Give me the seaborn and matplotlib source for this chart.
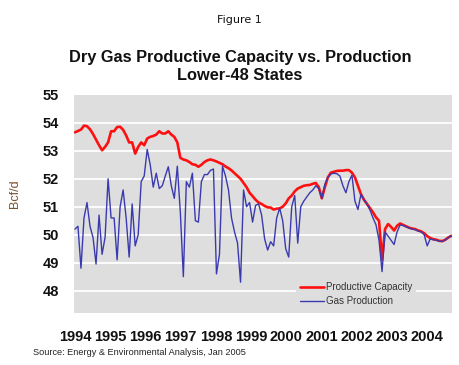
import matplotlib
matplotlib.use("Agg")
import matplotlib.pyplot as plt
import seaborn as sns
import pandas as pd
import numpy as np
from matplotlib.lines import Line2D

# monthly values, Jan 1994 onward
capacity = [
    53.66, 53.71, 53.76, 53.90, 53.88, 53.77, 53.60, 53.40, 53.20, 53.02,
    53.14, 53.30, 53.70, 53.70, 53.85, 53.86, 53.75, 53.55, 53.30, 53.30,
    52.90, 53.14, 53.30, 53.20, 53.44, 53.50, 53.53, 53.58, 53.70, 53.62,
    53.62, 53.70, 53.58, 53.50, 53.30, 52.75, 52.69, 52.66, 52.60, 52.52,
    52.50, 52.43, 52.50, 52.60, 52.66, 52.69, 52.66, 52.62, 52.57, 52.52,
    52.44, 52.38, 52.30, 52.20, 52.10, 52.00, 51.85, 51.70, 51.50, 51.38,
    51.25, 51.15, 51.10, 51.03, 50.98, 50.97, 50.90, 50.93, 50.94, 51.00,
    51.12, 51.30, 51.40, 51.55, 51.65, 51.70, 51.75, 51.77, 51.78, 51.82,
    51.85, 51.70, 51.30, 51.70, 52.05, 52.22, 52.25, 52.28, 52.29, 52.29,
    52.31, 52.31, 52.22, 52.05, 51.75, 51.45, 51.25, 51.10, 50.95, 50.80,
    50.62, 50.50, 49.10, 50.20, 50.38, 50.28, 50.15, 50.32, 50.40, 50.35,
    50.30, 50.25, 50.22, 50.20, 50.15, 50.12, 50.05, 49.95, 49.88, 49.84,
    49.82, 49.78, 49.77, 49.82, 49.90, 49.96,
]
production = [
    50.20, 50.30, 48.80, 50.60, 51.15, 50.30, 49.90, 48.95, 50.70, 49.30,
    49.90, 52.00, 50.60, 50.60, 49.10, 51.00, 51.60, 50.60, 49.20, 51.10,
    49.60, 50.00, 51.90, 52.10, 53.05, 52.50, 51.70, 52.20, 51.65, 51.75,
    52.10, 52.43, 51.75, 51.30, 52.45, 50.80, 48.50, 51.90, 51.70, 52.20,
    50.50, 50.45, 51.90, 52.15, 52.15, 52.30, 52.35, 48.60, 49.30, 52.45,
    52.10, 51.60, 50.60, 50.10, 49.70, 48.30, 51.60, 51.00, 51.15, 50.45,
    51.05, 51.10, 50.70, 49.85, 49.45, 49.75, 49.60, 50.60, 50.95, 50.50,
    49.50, 49.20, 51.00, 51.40, 49.70, 51.00, 51.20, 51.35, 51.50, 51.60,
    51.75, 51.65, 51.30, 51.80, 52.05, 52.17, 52.20, 52.18, 52.10, 51.75,
    51.50, 51.90, 52.13, 51.20, 50.90, 51.45, 51.25, 51.10, 50.88, 50.60,
    50.35, 49.80, 48.68, 50.10, 49.95, 49.80, 49.65, 50.10, 50.35, 50.33,
    50.28, 50.24, 50.20, 50.18, 50.13, 50.10, 50.00, 49.60, 49.85, 49.82,
    49.80, 49.77, 49.76, 49.81, 49.90, 49.96,
]
years = [str(y) for y in range(1994, 2005)]
y_ticks = [48, 49, 50, 51, 52, 53, 54, 55]

df = pd.DataFrame({
    "month": np.arange(len(capacity)),
    "Productive Capacity": capacity,
    "Gas Production": production,
})
long_df = df.melt(id_vars="month", var_name="series", value_name="bcfd")

sns.set_style("white")
plt.rcParams["font.family"] = ["Liberation Sans", "DejaVu Sans"]

fig = plt.figure(figsize=(4.6, 3.65), dpi=100)
ax = fig.add_axes([0.161, 0.1425, 0.822, 0.5975])
ax.set_facecolor("#dedede")

ax.set_ylim(47.2, 55)
ax.set_yticks(y_ticks)
for v in y_ticks[:-1]:
    ax.axhline(v, color="white", lw=1.3, zorder=1)

sns.lineplot(data=long_df, x="month", y="bcfd", hue="series",
             palette={"Productive Capacity": "#ff1010", "Gas Production": "#3a3ab0"},
             size="series", sizes={"Productive Capacity": 1.9, "Gas Production": 1.0},
             ax=ax, zorder=3, legend=False)

ax.set_xlim(-0.3, 125.3)
# year labels are spread evenly under the plot, as in the original
ax.set_xticks(np.arange(len(years)) * 11.7)
ax.set_xticklabels(years, fontsize=10.5, fontweight="bold", color="#111111")
ax.set_yticklabels([str(v) for v in y_ticks], fontsize=10.5, fontweight="bold", color="#111111")
ax.tick_params(axis="x", length=0, pad=12)
ax.tick_params(axis="y", length=0, pad=11)
for s in ax.spines.values():
    s.set_visible(False)

ax.set_xlabel("")
ax.set_ylabel("Bcf/d", fontsize=9, color="#7a5230")
ax.yaxis.set_label_coords(-0.14, 0.546)

# legend sits on the gray plot area, covering the 48 gridline
handles = [Line2D([], [], color="#ff1010", lw=1.9),
           Line2D([], [], color="#3a3ab0", lw=1.0)]
leg = ax.legend(handles, ["Productive Capacity", "Gas Production"],
                loc="lower left", bbox_to_anchor=(0.575, -0.01), fontsize=7,
                frameon=True, handlelength=2.4, handletextpad=0.25,
                labelspacing=0.45, borderpad=0.4)
leg.get_frame().set_facecolor("#dedede")
leg.get_frame().set_edgecolor("none")
leg.get_frame().set_alpha(1)
for t in leg.get_texts():
    t.set_color("#333333")

fig.text(0.52, 0.945, "Figure 1", ha="center", va="center", fontsize=8,
         family=["DejaVu Sans"], color="#111111")
fig.text(0.522, 0.818, "Dry Gas Productive Capacity vs. Production\nLower-48 States",
         ha="center", va="center", fontsize=11.8, fontweight="bold",
         linespacing=1.3, color="#111111")
fig.text(0.072, 0.033, "Source: Energy & Environmental Analysis, Jan 2005",
         ha="left", va="center", fontsize=6.6, color="#222222")

fig.savefig("out.png", dpi=100)
